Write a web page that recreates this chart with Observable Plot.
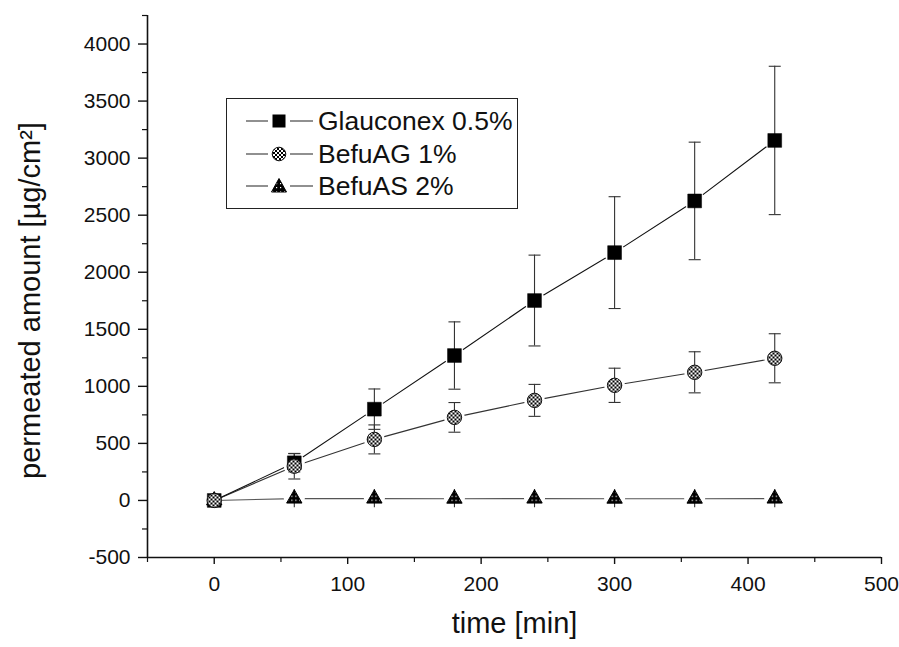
<!DOCTYPE html>
<html><head><meta charset="utf-8">
<script src="https://cdn.jsdelivr.net/npm/d3@7"></script>
<script src="https://cdn.jsdelivr.net/npm/@observablehq/plot@0.6"></script>
<style>
body{margin:0;background:#fff;}
#wrap{position:relative;width:899px;height:647px;font-family:"Liberation Sans",Arial,sans-serif;}
#legend{position:absolute;left:226px;top:98px;width:292px;height:111px;border:1.5px solid #222;box-sizing:border-box;background:#fff;}
#legend .row{position:absolute;left:0;height:32px;display:flex;align-items:center;font-size:26.5px;color:#111;white-space:nowrap;}
#legend svg{display:block;}
</style></head><body><div id="wrap"></div>
<script>
// ---- data ----
const times = [0, 60, 120, 180, 240, 300, 360, 420];
const glauconex    = [0, 330, 800, 1270, 1752, 2172, 2625, 3155];
const glauconexErr = [0, 80, 177, 295, 398, 490, 515, 650];
const befuAG       = [0, 300, 535, 728, 877, 1009, 1123, 1246];
const befuAGErr    = [0, 112, 127, 130, 140, 150, 180, 215];
const befuAS       = [0, 16, 16, 15, 16, 15, 15, 16];
const befuASErr    = [0, 80, 80, 80, 80, 80, 80, 80];
const seriesNames = ["Glauconex 0.5%", "BefuAG 1%", "BefuAS 2%"];
const xTicks = [0, 100, 200, 300, 400, 500];
const xMinorTicks = [-50, 50, 150, 250, 350, 450];
const yTicks = [-500, 0, 500, 1000, 1500, 2000, 2500, 3000, 3500, 4000];
const yMinorTicks = [-250, 250, 750, 1250, 1750, 2250, 2750, 3250, 3750, 4250];
const xLabel = "time [min]";
const yLabel = "permeated amount [µg/cm²]";

const mk = (name, vals, errs) => times.map((t, i) => ({series: name, t, v: vals[i], e: errs[i]}));
const sG = mk(seriesNames[0], glauconex, glauconexErr);
const sAG = mk(seriesNames[1], befuAG, befuAGErr);
const sAS = mk(seriesNames[2], befuAS, befuASErr);
const all = [...sG, ...sAG, ...sAS];
const withCaps = [...sG, ...sAG].filter(d => d.e > 0);

const cap = {draw(ctx) { ctx.moveTo(-6, 0); ctx.lineTo(6, 0); }};
const fmt = d => String(d);

const svg = Plot.plot({
  width: 899, height: 647,
  marginLeft: 147, marginRight: 18, marginTop: 15, marginBottom: 90,
  style: {fontFamily: '"Liberation Sans", Arial, sans-serif', fontSize: "21px", color: "#111", background: "#fff"},
  x: {domain: [-50, 500]},
  y: {domain: [-500, 4250]},
  marks: [
    Plot.ruleX([-50], {stroke: "#111", strokeWidth: 1.6}),
    Plot.ruleY([-500], {stroke: "#111", strokeWidth: 1.6}),
    Plot.axisY({ticks: yTicks, tickFormat: fmt, tickSize: 9, tickPadding: 8, fontSize: 21, label: null, strokeWidth: 1.4}),
    Plot.axisY({ticks: yMinorTicks, tickSize: 5, text: null, label: null, strokeWidth: 1.2}),
    Plot.axisX({ticks: xTicks, tickFormat: fmt, tickSize: 7, tickPadding: 12, fontSize: 21, label: null, strokeWidth: 1.4}),
    Plot.axisX({ticks: xMinorTicks, tickSize: 5, text: null, label: null, strokeWidth: 1.2}),
    Plot.text([yLabel], {frameAnchor: "left", textAnchor: "middle", rotate: -90, dx: -117, dy: 14, fontSize: 29, fill: "#111"}),
    Plot.text([xLabel], {frameAnchor: "bottom", dy: 75, fontSize: 29, fill: "#111"}),
    // connecting lines
    Plot.line(sAS, {x: "t", y: "v", stroke: "#555", strokeWidth: 1.1}),
    Plot.line(sAG, {x: "t", y: "v", stroke: "#333", strokeWidth: 1.1}),
    Plot.line(sG, {x: "t", y: "v", stroke: "#111", strokeWidth: 1.1}),
    // white halo around markers (gap between line and symbol)
    Plot.dot(all.filter(d => d.t > 0), {x: "t", y: "v", r: 10.5, fill: "#fff", stroke: "none"}),
    // error bars
    Plot.ruleX(all.filter(d => d.e > 0), {x: "t", y1: d => d.v - d.e, y2: d => d.v + d.e, stroke: "#333", strokeWidth: 1.1}),
    Plot.dot(withCaps, {x: "t", y: d => d.v + d.e, symbol: cap, fill: "none", stroke: "#333", strokeWidth: 1.1}),
    Plot.dot(withCaps, {x: "t", y: d => d.v - d.e, symbol: cap, fill: "none", stroke: "#333", strokeWidth: 1.1}),
    // markers
    Plot.dot(sG, {x: "t", y: "v", symbol: "square", r: 7.8, fill: "#000", stroke: "#000", strokeWidth: 0.5}),
    Plot.dot(sAS, {x: "t", y: "v", symbol: "triangle", r: 5.7, fill: "url(#dotpat)", stroke: "#000", strokeWidth: 1}),
    Plot.dot(sAG, {x: "t", y: "v", symbol: "circle", r: 7.2, fill: "url(#checker)", stroke: "#111", strokeWidth: 1})
  ]
});

// fill patterns
const defs = d3.select(svg).insert("defs", ":first-child");
const ck = defs.append("pattern").attr("id", "checker").attr("patternUnits", "userSpaceOnUse").attr("width", 4).attr("height", 4);
ck.append("rect").attr("width", 4).attr("height", 4).attr("fill", "#fff");
ck.append("rect").attr("width", 2).attr("height", 2).attr("fill", "#000");
ck.append("rect").attr("x", 2).attr("y", 2).attr("width", 2).attr("height", 2).attr("fill", "#000");
const dp = defs.append("pattern").attr("id", "dotpat").attr("patternUnits", "userSpaceOnUse").attr("width", 4).attr("height", 4);
dp.append("rect").attr("width", 4).attr("height", 4).attr("fill", "#000");
dp.append("rect").attr("x", 1).attr("y", 1).attr("width", 1.2).attr("height", 1.2).attr("fill", "#fff");

const wrap = document.getElementById("wrap");
wrap.appendChild(svg);

// legend
const legend = document.createElement("div");
legend.id = "legend";
wrap.appendChild(legend);
const symbols = ["square", "circle", "triangle"];
const rowTops = [6, 39, 71];
seriesNames.forEach((name, i) => {
  const row = document.createElement("div");
  row.className = "row";
  row.style.top = rowTops[i] + "px";
  const ns = "http://www.w3.org/2000/svg";
  const s = document.createElementNS(ns, "svg");
  s.setAttribute("width", 90); s.setAttribute("height", 32);
  const ln = document.createElementNS(ns, "line");
  ln.setAttribute("x1", 19); ln.setAttribute("x2", 86); ln.setAttribute("y1", 16); ln.setAttribute("y2", 16);
  ln.setAttribute("stroke", "#222"); ln.setAttribute("stroke-width", 1.1);
  s.appendChild(ln);
  const halo = document.createElementNS(ns, "rect");
  halo.setAttribute("x", 41); halo.setAttribute("y", 6); halo.setAttribute("width", 22); halo.setAttribute("height", 20); halo.setAttribute("fill", "#fff");
  s.appendChild(halo);
  let m;
  if (symbols[i] === "square") {
    m = document.createElementNS(ns, "rect");
    m.setAttribute("x", 45.5); m.setAttribute("y", 9.5); m.setAttribute("width", 13); m.setAttribute("height", 13); m.setAttribute("fill", "#000");
  } else if (symbols[i] === "circle") {
    m = document.createElementNS(ns, "circle");
    m.setAttribute("cx", 52); m.setAttribute("cy", 16); m.setAttribute("r", 6.8);
    m.setAttribute("fill", "url(#checker)"); m.setAttribute("stroke", "#111");
  } else {
    m = document.createElementNS(ns, "path");
    m.setAttribute("d", "M52,8.5L59.5,22L44.5,22Z");
    m.setAttribute("fill", "url(#dotpat)"); m.setAttribute("stroke", "#000");
  }
  s.appendChild(m);
  row.appendChild(s);
  const tx = document.createElement("span");
  tx.textContent = name;
  tx.style.marginLeft = "1px";
  row.appendChild(tx);
  legend.appendChild(row);
});
</script>
</body></html>
